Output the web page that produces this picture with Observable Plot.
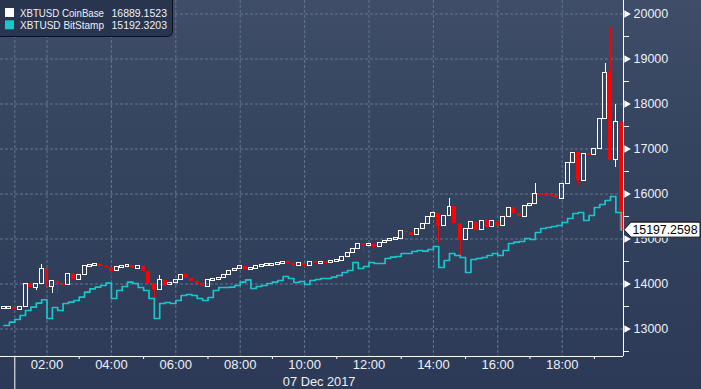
<!DOCTYPE html>
<html><head><meta charset="utf-8">
<script src="https://cdn.jsdelivr.net/npm/d3@7"></script>
<script src="https://cdn.jsdelivr.net/npm/@observablehq/plot@0.6"></script>
<style>
body{margin:0;background:#2c3a57;}
#chart{width:701px;height:389px;overflow:hidden;}
</style>
</head><body><div id="chart"></div>
<script>
// ---- data (10-minute candles, CoinBase close; BitStamp last) ----
const coinClose = [
13456,13460,13433,13500,14011,13922,14011,14344,13944,14056,
13989,13967,14233,14100,14211,14389,14411,14422,14389,14367,
14278,14367,14389,14411,14344,14389,14278,14011,13856,14078,
13967,14033,14100,14211,14122,14056,14011,13944,14078,14100,
14144,14211,14278,14344,14389,14322,14344,14389,14411,14422,
14433,14444,14478,14456,14411,14456,14411,14478,14467,14478,
14467,14511,14522,14611,14700,14767,14878,14856,14870,14818,
14922,14956,14989,15011,15167,15144,15078,15233,15344,15500,
15567,15278,15522,15722,15344,14967,15233,15367,15189,15411,
15256,15389,15278,15478,15700,15567,15500,15744,15770,16011,
15978,15975,15967,15900,16233,16678,16922,16300,16900,16856,
16989,17656,18700,16750,17600,15197.2598
];
const stampValue = [
13078,13151,13211,13300,13411,13485,13574,13650,13233,13478,
13411,13567,13596,13633,13707,13818,13893,13930,13967,14019,
13678,13856,13944,14041,14011,13922,13856,13678,13233,13567,
13589,13567,13633,13744,13767,13744,13678,13633,13700,13856,
13922,13922,13930,13967,14041,14093,13900,13944,13967,14011,
14041,14078,14167,14122,14033,14056,13989,14078,14100,14122,
14122,14152,14189,14256,14300,14478,14344,14389,14478,14456,
14456,14567,14596,14611,14678,14678,14722,14744,14730,14767,
14833,14367,14522,14678,14633,14589,14256,14544,14567,14589,
14633,14678,14633,14744,14900,14929,14944,15011,14989,15144,
15233,15256,15278,15300,15367,15456,15567,15589,15411,15522,
15700,15767,15856,15944,15589,15192.3203
];
const wickIndex = [6,7,9,10,20,28,29,54,56,67,81,83,85,99,107,112,113,114];
const wickHigh  = [null,14433,null,null,null,null,14189,null,null,null,null,15900,null,16233,null,18900,19700,18000];
const wickLow   = [13856,null,13789,13789,14152,13567,null,14300,14367,14700,14922,null,14633,null,16189,null,null,16600];

const yTickValues = [13000,14000,15000,16000,17000,18000,19000,20000];
const yMinorValues = [12500,13500,14500,15500,16500,17500,18500,19500];
const xTickLabels = ["02:00","04:00","06:00","08:00","10:00","12:00","14:00","16:00","18:00"];
const xMinorHours = [3,5,7,9,11,13,15,17,19];
const dateLabel = "07 Dec 2017";
const legendNames = ["XBTUSD CoinBase","XBTUSD BitStamp"];
const legendValues = ["16889.1523","15192.3203"];
const legendColors = ["#ffffff","#16c8cc"];

// ---- build tables ----
const H = (h, m = 0, s = 0) => Date.UTC(2017, 11, 7, h, m, s);
const t0 = H(0, 40), step = 10 * 60000;
const xDomain = [new Date(H(0, 33, 21)), new Date(H(19, 54, 14))];
const yDomain = [12389, 20300];
const dayStart = new Date(H(1));

const candles = coinClose.map((c, i) => {
  const o = i ? coinClose[i - 1] : c;
  let lo = Math.min(o, c), hi = Math.max(o, c);
  if (hi - lo < 45) { const m = (hi + lo) / 2; lo = m - 22; hi = m + 22; }
  return {t: t0 + i * step, o, c, up: c >= o, lo, hi};
});
const wicks = [];
wickIndex.forEach((idx, k) => {
  const d = candles[idx];
  if (wickHigh[k] != null) wicks.push({t: d.t, a: d.hi, b: wickHigh[k], up: d.up});
  if (wickLow[k] != null) wicks.push({t: d.t, a: d.lo, b: wickLow[k], up: d.up});
});
const stamp = stampValue.map((v, i) => ({t: new Date(t0 + i * step), v}));
const half = 3.7 * 60000;
const xTicks = xTickLabels.map(s => new Date(H(+s.slice(0, 2))));
const xMinor = xMinorHours.map(h => new Date(H(h)));
const grid = "#62788f";
const txt = "#eef0f5";
const font = "'Liberation Sans', Arial, sans-serif";

const plot = Plot.plot({
  width: 701, height: 389,
  marginLeft: 0, marginRight: 78, marginTop: 0, marginBottom: 33,
  style: {background: "linear-gradient(to bottom, #3f4d69 0%, #35445f 35%, #2c3a57 100%)",
          color: txt, fontFamily: font, fontSize: "13px", overflow: "visible"},
  x: {type: "utc", domain: xDomain},
  y: {domain: yDomain},
  marks: [
    Plot.ruleY(yTickValues, {stroke: grid, strokeDasharray: "3,2"}),
    Plot.ruleX([dayStart, ...xTicks], {stroke: grid, strokeDasharray: "3,2"}),
    Plot.ruleX(wicks, {x: d => new Date(d.t), y1: "a", y2: "b",
      stroke: d => d.up ? "#ffffff" : "#ff0000", strokeWidth: 1, shapeRendering: "crispEdges"}),
    Plot.rect(candles.filter(d => d.up), {x1: d => new Date(d.t - half), x2: d => new Date(d.t + half),
      y1: "lo", y2: "hi", fill: "none", stroke: "#ffffff", strokeWidth: 1, shapeRendering: "crispEdges"}),
    Plot.rect(candles.filter(d => !d.up), {x1: d => new Date(d.t - half), x2: d => new Date(d.t + half),
      y1: "lo", y2: "hi", fill: "#ff0000", shapeRendering: "crispEdges"}),
    Plot.line(stamp, {x: "t", y: "v", curve: "step-after", stroke: legendColors[1], strokeWidth: 1.7}),
    Plot.ruleY([yDomain[0]], {stroke: "#ffffff"}),
    Plot.ruleX([xDomain[1]], {stroke: "#ffffff"}),
    Plot.axisY({anchor: "right", ticks: yTickValues, tickSize: 0, tickPadding: 10,
      tickFormat: d => String(d), fontSize: 12.5, color: txt, label: null}),
    Plot.axisY({anchor: "right", ticks: yMinorValues, tickSize: 5, tickFormat: () => "",
      stroke: "#ffffff", label: null}),
    Plot.dot(yTickValues, {y: d => d, frameAnchor: "right", symbol: "triangle", rotate: 90,
      r: 2.8, fill: "#ffffff", stroke: "none", dx: 3}),
    Plot.axisX({anchor: "bottom", ticks: xTicks, tickSize: 0, tickPadding: 3,
      tickFormat: d3.utcFormat("%H:%M"), fontSize: 13, color: txt, label: null}),
    Plot.axisX({anchor: "bottom", ticks: xMinor, tickSize: 3, tickFormat: () => "",
      stroke: "#ffffff", label: null}),
    Plot.axisX({anchor: "bottom", ticks: [dayStart], tickSize: 33, tickFormat: () => "",
      stroke: "#ffffff", label: null}),
    Plot.text([dateLabel], {x: () => new Date((+dayStart + +xDomain[1]) / 2), frameAnchor: "bottom",
      dy: 29.5, fill: txt, fontSize: 12.8})
  ]
});

const svg = d3.select(plot);
// last value box
const yS = plot.scale("y");
const lastV = coinClose[coinClose.length - 1];
const yc = yS.apply(lastV);
const xa = 701 - 78 + 1;
const box = svg.append("g").attr("text-anchor", "start");
box.append("path")
  .attr("d", `M${xa},${yc} L${xa + 7},${yc - 7.5} H700 V${yc + 7.5} H${xa + 7} Z`)
  .attr("fill", "#ffffff").attr("stroke", "#111").attr("stroke-width", 1);
box.append("text").attr("x", xa + 8.5).attr("y", yc).attr("dy", "0.36em")
  .attr("font-size", 12.3).attr("fill", "#000").attr("font-family", font)
  .text(lastV.toFixed(4));
// legend
const lg = svg.append("g").attr("text-anchor", "start");
lg.append("path").attr("d", "M-1,-1 H172.5 V31 Q172.5,36.5 167,36.5 H-1 Z")
  .attr("fill", "#29344f").attr("stroke", "#0b1020").attr("stroke-width", 1);
legendNames.forEach((n, i) => {
  const yb = 16.5 + i * 12.3;
  lg.append("rect").attr("x", 5).attr("y", yb - 8.5).attr("width", 9).attr("height", 9)
    .attr("fill", legendColors[i]);
  lg.append("text").attr("x", 20).attr("y", yb).attr("font-size", 11).attr("fill", txt)
    .attr("font-family", font).attr("textLength", 84).attr("lengthAdjust", "spacingAndGlyphs").text(n);
  lg.append("text").attr("x", 111.5).attr("y", yb).attr("font-size", 10.5).attr("fill", txt)
    .attr("font-family", font).text(legendValues[i]);
});
document.getElementById("chart").appendChild(plot);
</script></body></html>
